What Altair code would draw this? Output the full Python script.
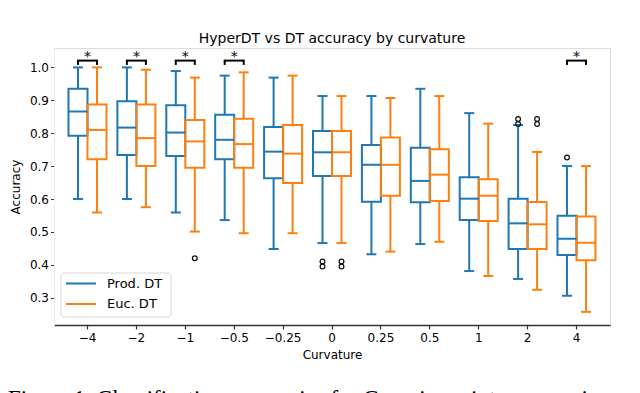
import altair as alt
import pandas as pd

# ---------------- data ----------------
curvatures = ["-4", "-2", "-1", "-0.5", "-0.25", "0", "0.25", "0.5", "1", "2", "4"]
series_names = ["Prod. DT", "Euc. DT"]
series_colors = ["#1f77b4", "#ff7f0e"]

prod_hi = [1.0, 1.0, 0.989, 0.975, 0.969, 0.913, 0.913, 0.935, 0.861, 0.825, 0.700]
prod_q3 = [0.935, 0.897, 0.885, 0.856, 0.819, 0.807, 0.764, 0.756, 0.666, 0.601, 0.549]
prod_med = [0.866, 0.817, 0.802, 0.780, 0.744, 0.742, 0.704, 0.655, 0.601, 0.526, 0.479]
prod_q1 = [0.792, 0.734, 0.731, 0.721, 0.663, 0.670, 0.592, 0.590, 0.536, 0.448, 0.430]
prod_lo = [0.600, 0.600, 0.559, 0.536, 0.448, 0.466, 0.432, 0.463, 0.381, 0.357, 0.306]

euc_hi = [1.0, 0.993, 0.969, 0.985, 0.975, 0.913, 0.907, 0.913, 0.829, 0.743, 0.700]
euc_q3 = [0.887, 0.887, 0.840, 0.844, 0.825, 0.807, 0.787, 0.751, 0.660, 0.591, 0.547]
euc_med = [0.810, 0.785, 0.775, 0.767, 0.738, 0.742, 0.704, 0.674, 0.610, 0.523, 0.467]
euc_q1 = [0.721, 0.700, 0.695, 0.695, 0.649, 0.670, 0.610, 0.594, 0.533, 0.448, 0.414]
euc_lo = [0.559, 0.575, 0.501, 0.496, 0.496, 0.466, 0.440, 0.470, 0.366, 0.324, 0.257]

outlier_curv = ["-1", "0", "0", "0", "0", "2", "2", "2", "2", "4"]
outlier_series = ["Euc. DT", "Prod. DT", "Prod. DT", "Euc. DT", "Euc. DT",
                  "Prod. DT", "Prod. DT", "Euc. DT", "Euc. DT", "Prod. DT"]
outlier_vals = [0.420, 0.410, 0.395, 0.410, 0.395, 0.843, 0.828, 0.843, 0.828, 0.726]

significant = ["-4", "-2", "-1", "-0.5", "4"]

y_tick_values = [0.3, 0.4, 0.5, 0.6, 0.7, 0.8, 0.9, 1.0]
title_text = "HyperDT vs DT accuracy by curvature"
caption_text = "Figure 1. Classification accuracies for Gaussian mixture experiments in"

# ---------------- tables ----------------
rows = []
for s, hi, q3, med, q1, lo in [
    (series_names[0], prod_hi, prod_q3, prod_med, prod_q1, prod_lo),
    (series_names[1], euc_hi, euc_q3, euc_med, euc_q1, euc_lo),
]:
    for i, c in enumerate(curvatures):
        rows.append(dict(curv=c, series=s, hi=hi[i], q3=q3[i], med=med[i], q1=q1[i], lo=lo[i]))
box_df = pd.DataFrame(rows)

out_df = pd.DataFrame(dict(curv=outlier_curv, series=outlier_series, val=outlier_vals))
sig_pairs = pd.DataFrame([dict(curv=c, series=s) for c in significant for s in series_names])
sig_df = pd.DataFrame(dict(curv=significant, star=["*"] * len(significant)))
cap_df = pd.DataFrame(dict(t=[caption_text]))

# ---------------- encodings ----------------
FONT = "DejaVu Sans"
W, H = 556, 277

x_axis = alt.Axis(
    title="Curvature", labelAngle=0, labelFontSize=12, labelFont=FONT, labelColor="#000",
    labelPadding=3, titleFontSize=12, titleFont=FONT, titleFontWeight="normal",
    titleColor="#000", titlePadding=6, domainColor="#333", domainWidth=1.5,
    tickColor="#333", tickSize=4, tickWidth=1.2, labelOverlap=False,
    labelExpr="replace(datum.label, '-', '\u2212')",
)
y_axis = alt.Axis(
    title="Accuracy", values=y_tick_values, format=".1f",
    labelFontSize=12, labelFont=FONT, labelColor="#000", labelPadding=2,
    labelOverlap=False, labelFlush=False, labelBound=False,
    titleFontSize=12, titleFont=FONT, titleFontWeight="normal", titleColor="#000",
    titleX=-39, titleY=H / 2, titleAngle=270, titleAlign="center", titleBaseline="middle",
    domainColor="#ebebeb", domainWidth=1, tickColor="#333", tickSize=3.5, tickWidth=1,
    grid=False,
)
x_scale = alt.Scale(paddingInner=0, paddingOuter=0.185)
xo_scale = alt.Scale(paddingInner=0, paddingOuter=0.287)
y_scale = alt.Scale(domain=[0.217, 1.059], nice=False, zero=False)
c_scale = alt.Scale(domain=series_names, range=series_colors)


def xe():
    return alt.X("curv:N", sort=curvatures, scale=x_scale, axis=x_axis)


def xoe():
    return alt.XOffset("series:N", sort=series_names, scale=xo_scale)


def ye(field):
    return alt.Y(field, type="quantitative", scale=y_scale, axis=y_axis)


def yd(v):
    return alt.Y(datum=v, type="quantitative", scale=y_scale, axis=y_axis)


color_enc = alt.Color("series:N", sort=series_names, scale=c_scale, legend=None)

base = alt.Chart(box_df)

boxes = base.mark_bar(filled=False, strokeWidth=2, opacity=1).encode(
    x=xe(), xOffset=xoe(), y=ye("q1"), y2="q3", color=color_enc)
whisk_lo = base.mark_rule(strokeWidth=2, opacity=1).encode(
    x=xe(), xOffset=xoe(), y=ye("lo"), y2="q1", color=color_enc)
whisk_hi = base.mark_rule(strokeWidth=2, opacity=1).encode(
    x=xe(), xOffset=xoe(), y=ye("q3"), y2="hi", color=color_enc)
cap_lo = base.mark_tick(thickness=2, opacity=1).encode(
    x=xe(), xOffset=xoe(), y=ye("lo"), color=color_enc, size=alt.value(10))
cap_hi = base.mark_tick(thickness=2, opacity=1).encode(
    x=xe(), xOffset=xoe(), y=ye("hi"), color=color_enc, size=alt.value(10))
medians = base.mark_tick(thickness=2, opacity=1).encode(
    x=xe(), xOffset=xoe(), y=ye("med"), color=color_enc, size=alt.value(19))

outliers = alt.Chart(out_df).mark_point(
    shape="circle", filled=False, color="#111", size=22, strokeWidth=1.3, opacity=1
).encode(x=xe(), xOffset=xoe(), y=ye("val"))

br_vert = alt.Chart(sig_pairs).mark_rule(color="#000", strokeWidth=2).encode(
    x=xe(), xOffset=xoe(), y=yd(1.0076), y2=alt.datum(1.0207))
br_horz = alt.Chart(sig_df).mark_tick(color="#000", thickness=2, opacity=1).encode(
    x=xe(), y=yd(1.0207), size=alt.value(21))
stars = alt.Chart(sig_df).mark_text(
    font=FONT, fontSize=14, baseline="alphabetic", align="center", color="#000"
).encode(x=xe(), y=yd(1.018), text="star:N")

# legend drawn by hand (box, sample lines, labels)
leg_box = alt.Chart(cap_df).mark_rect(
    fill="white", stroke="#d5d5d5", strokeWidth=1, cornerRadius=3
).encode(x=alt.value(7), x2=alt.value(117), y=alt.value(225), y2=alt.value(269))
leg_layers = []
for i, (name, col) in enumerate(zip(series_names, series_colors)):
    yy = 235.5 + 20.5 * i
    leg_layers.append(alt.Chart(cap_df).mark_rule(strokeWidth=2, color=col).encode(
        x=alt.value(12), x2=alt.value(42), y=alt.value(yy)))
    leg_layers.append(alt.Chart(cap_df).mark_text(
        font=FONT, fontSize=13, align="left", baseline="middle", color="#000"
    ).encode(x=alt.value(53), y=alt.value(yy), text=alt.value(name)))

caption = alt.Chart(cap_df).mark_text(
    font="Liberation Serif", fontSize=23, align="left", baseline="alphabetic", color="#000"
).encode(x=alt.value(-46), y=alt.value(358), text="t:N")

chart = alt.layer(
    whisk_lo, whisk_hi, boxes, cap_lo, cap_hi, medians, outliers,
    br_vert, br_horz, stars, leg_box, *leg_layers, caption,
).properties(
    width=W, height=H,
    title=alt.TitleParams(title_text, font=FONT, fontSize=14, fontWeight="normal",
                          color="#000", anchor="middle", offset=2),
    autosize=alt.AutoSizeParams(type="none"),
    padding={"left": 46, "top": 40, "right": 16, "bottom": 80},
).configure_view(stroke=None).configure(background="white").configure_axisY(
    labelOverlap=False)

chart.save("out.html", embed_options={"renderer": "svg", "actions": False})
